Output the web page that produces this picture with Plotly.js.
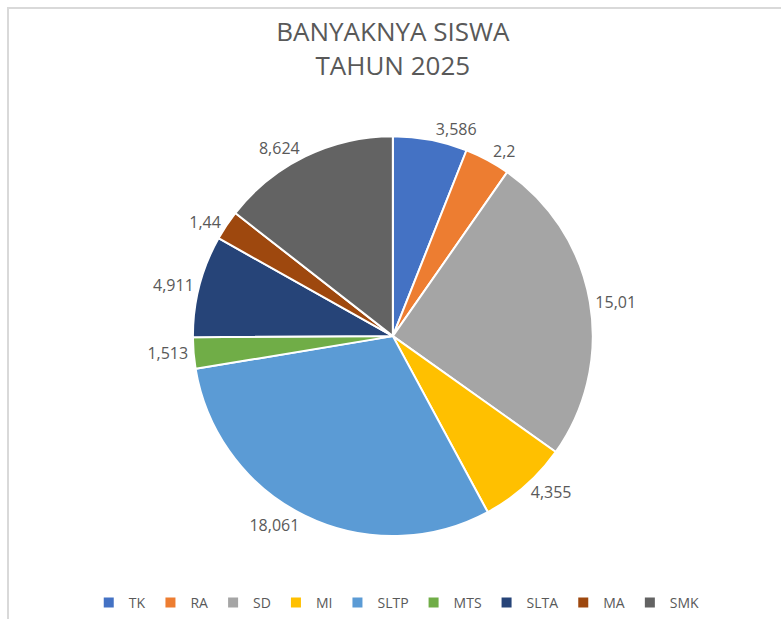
<!DOCTYPE html>
<html>
<head>
<meta charset="utf-8">
<script src="https://cdn.plot.ly/plotly-3.0.1.min.js"></script>
<style>
  html, body { margin: 0; padding: 0; background: #fff; }
  #wrap { position: relative; width: 781px; height: 619px; overflow: hidden; }
  #chart { position: absolute; left: 0; top: 0; width: 781px; height: 619px; }
  #frame { position: absolute; left: 7px; top: 7px; width: 800px; height: 700px;
           border-left: 2px solid #d9d9d9; border-top: 2px solid #d9d9d9; pointer-events: none; }
</style>
</head>
<body>
<div id="wrap">
  <div id="chart"></div>
  <div id="frame"></div>
</div>
<script>
const categories = ["TK", "RA", "SD", "MI", "SLTP", "MTS", "SLTA", "MA", "SMK"];
const values = [3.586, 2.2, 15.01, 4.355, 18.061, 1.513, 4.911, 1.44, 8.624];
const colors = ["#4472C4", "#ED7D31", "#A5A5A5", "#FFC000", "#5B9BD5", "#70AD47", "#264478", "#9E480E", "#636363"];
const labelsText = values.map(v => String(v).replace('.', ','));

const FONT = '"Open Sans", "Noto Sans", sans-serif';

const data = [{
  type: 'pie',
  labels: categories,
  values: values,
  text: labelsText,
  textinfo: 'text',
  textposition: 'outside',
  sort: false,
  direction: 'clockwise',
  rotation: 0,
  marker: { colors: colors, line: { color: '#ffffff', width: 2 } },
  outsidetextfont: { family: FONT, size: 16, color: '#595959' },
  hoverinfo: 'none',
  automargin: false,
  domain: { x: [0.006, 1], y: [0.134, 0.780] }
}];

const layout = {
  width: 781,
  height: 619,
  margin: { l: 0, r: 0, t: 0, b: 0 },
  paper_bgcolor: '#ffffff',
  title: {
    text: 'BANYAKNYA SISWA<br>TAHUN 2025',
    font: { family: FONT, size: 26, color: '#595959' },
    x: 0.503, xanchor: 'center',
    y: 0.933, yanchor: 'middle'
  },
  showlegend: true,
  legend: {
    orientation: 'h',
    x: 0.508, xanchor: 'center',
    y: 0.026, yanchor: 'middle',
    font: { family: FONT, size: 14, color: '#595959' },
    itemwidth: 30,
    traceorder: 'normal'
  }
};

Plotly.newPlot('chart', data, layout, { staticPlot: true, displayModeBar: false });
</script>
</body>
</html>
